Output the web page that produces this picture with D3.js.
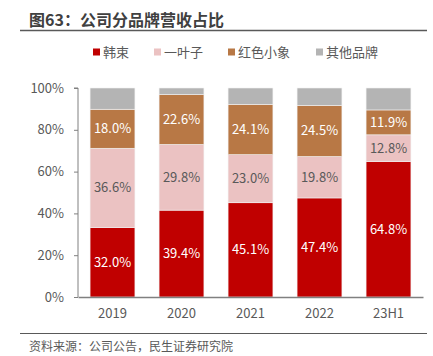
<!DOCTYPE html>
<html><head><meta charset="utf-8">
<script src="https://cdn.jsdelivr.net/npm/d3@7"></script>
<style>
body{margin:0;background:#fff;}
text{font-family:"Noto Sans CJK SC","Microsoft YaHei",sans-serif;}
</style></head>
<body><svg id="c" width="433" height="356"></svg>
<script>
const categories = ["2019","2020","2021","2022","23H1"];
const seriesNames = ["韩束","一叶子","红色小象","其他品牌"];
const hanshu = [32.0, 39.4, 45.1, 47.4, 64.8];
const yiyezi = [36.6, 29.8, 23.0, 19.8, 12.8];
const hongse = [18.0, 22.6, 24.1, 24.5, 11.9];
const qita = [9.8, 3.0, 7.8, 8.3, 10.5];
const yTicks = [0, 0.2, 0.4, 0.6, 0.8, 1.0];
const colors = ["#C00000", "#EBC2C2", "#B87845", "#B4B4B4"];
const labelColors = ["#ffffff", "#595959", "#ffffff", null];

const rows = categories.map((c,i)=>({cat:c, "韩束":hanshu[i], "一叶子":yiyezi[i], "红色小象":hongse[i], "其他品牌":qita[i]}));
const stack = d3.stack().keys(seriesNames).offset(d3.stackOffsetExpand)(rows);

const svg = d3.select("#c");
const L=78, R=423, T=88, B=297;
const x = d3.scaleBand().domain(categories).range([L,R]).paddingInner(0.35).paddingOuter(0.175);
const y = d3.scaleLinear().domain([0,1]).range([B,T]);

// title
svg.append("text").attr("x",29).attr("y",26).attr("font-size",16).attr("font-weight","bold").attr("fill","#404040").text("图63：公司分品牌营收占比");
svg.append("line").attr("x1",20).attr("x2",427).attr("y1",30.5).attr("y2",30.5).attr("stroke","#595959").attr("stroke-width",1.5);

// legend
const legX = [93,154,228,316];
seriesNames.forEach((n,i)=>{
  svg.append("rect").attr("x",legX[i]).attr("y",48.5).attr("width",7).attr("height",7).attr("fill",colors[i]);
  svg.append("text").attr("x",legX[i]+10).attr("y",52).attr("dy","0.35em").attr("font-size",13).attr("fill","#595959").text(n);
});

// bars
stack.forEach((s,si)=>{
  const g = svg.append("g");
  g.selectAll("rect").data(s).join("rect")
    .attr("x",d=>x(d.data.cat)).attr("width",x.bandwidth())
    .attr("y",d=>y(d[1])).attr("height",d=>y(d[0])-y(d[1]))
    .attr("fill",colors[si]).attr("stroke","#f2f2f2").attr("stroke-width",0.6);
  if(labelColors[si]){
    g.selectAll("text").data(s).join("text")
      .attr("x",d=>x(d.data.cat)+x.bandwidth()/2)
      .attr("y",d=>(y(d[0])+y(d[1]))/2).attr("dy","0.35em")
      .attr("text-anchor","middle").attr("font-size",13).attr("fill",labelColors[si])
      .text(d=>d.data[s.key].toFixed(1)+"%");
  }
});

// y axis
const ya = svg.append("g").attr("transform",`translate(${L},0)`)
  .call(d3.axisLeft(y).tickValues(yTicks).tickFormat(d=>Math.round(d*100)+"%").tickSize(4).tickPadding(10));
ya.select(".domain").attr("stroke","#808080").attr("d",`M-4,${T}H0V${B}`);
ya.selectAll(".tick line").attr("stroke","#808080");
ya.selectAll(".tick text").attr("font-size",13).attr("fill","#595959").attr("font-family",'"Noto Sans CJK SC",sans-serif');

// x axis
const xa = svg.append("g").attr("transform",`translate(0,${B})`)
  .call(d3.axisBottom(x).tickSize(0).tickPadding(12));
xa.select(".domain").attr("stroke","#808080").attr("stroke-width",1.5);
xa.selectAll(".tick text").attr("font-size",13).attr("fill","#595959").attr("font-family",'"Noto Sans CJK SC",sans-serif');

// source
svg.append("line").attr("x1",20).attr("x2",427).attr("y1",333.5).attr("y2",333.5).attr("stroke","#595959").attr("stroke-width",1);
svg.append("text").attr("x",29).attr("y",347).attr("dy","0.35em").attr("font-size",12).attr("fill","#595959").text("资料来源：公司公告，民生证券研究院");
</script></body></html>
